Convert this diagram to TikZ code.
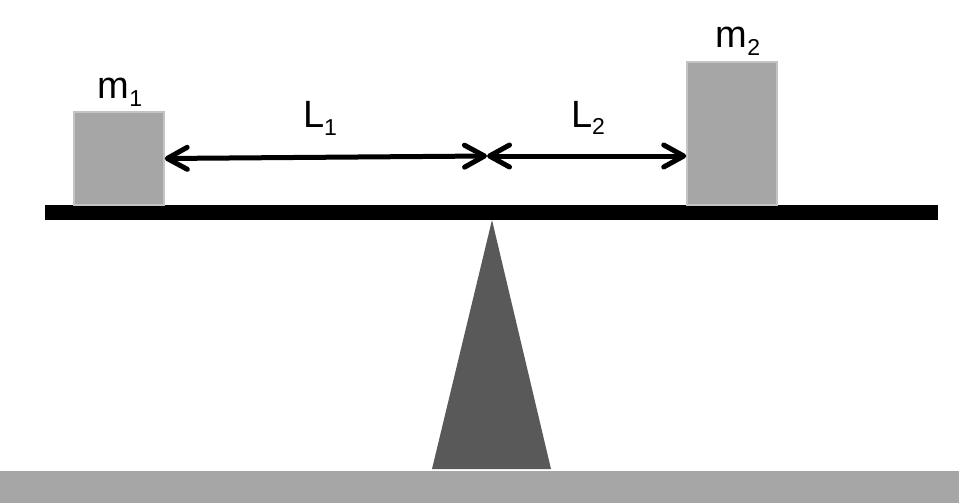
\documentclass[tikz,border=0pt]{standalone}
\usepackage{fontspec}
\setmainfont{Liberation Sans}
\usetikzlibrary{arrows.meta}
\definecolor{blockgray}{HTML}{A6A6A6}
\definecolor{edgegray}{HTML}{C4C4C4}
\definecolor{pivotgray}{HTML}{595959}
\newcommand{\subidx}[1]{\raisebox{-8pt}{\fontsize{23}{23}\selectfont #1}}
\tikzset{
  mass/.style={rectangle, draw=edgegray, fill=blockgray, line width=1.5pt, minimum width=90pt, inner sep=0pt},
  masslabel/.style={anchor=base, inner sep=0pt, font=\fontsize{38}{38}\selectfont},
  dist/.style={draw, line width=5pt, >={Straight Barb[length=20pt,width=22pt,line cap=round,line join=round]}, <->},
  beam/.style={fill=black},
  ground/.style={fill=blockgray},
  fulcrum/.style={fill=pivotgray},
}
\begin{document}
\begin{tikzpicture}[x=1pt,y=-1pt]
\useasboundingbox (0,0) rectangle (959,503);

  % ground and fulcrum
  \fill[ground] (0,471) rectangle (959,503);
  \coordinate (apex) at (492,220);
  \fill[fulcrum] (apex) -- (432,469) -- (551,469) -- cycle;
  \fill[beam] (45,205) rectangle (938,220);

  % the two masses
  \node[mass, minimum height=93pt] (m1) at (119,158.5) {};
  \node[mass, minimum height=143pt] (m2) at (732,133.5) {};
  \node[masslabel] (labm1) at (120,99) {m\subidx{1}};
  \node[masslabel] (labm2) at (738,48) {m\subidx{2}};

  % lever arms
  \coordinate (pivot) at (487,156);
  \path[dist] (m1.east) -- (pivot);
  \path[dist] (pivot) -- (pivot -| m2.west);
  \node[masslabel] (labL1) at (320,128) {L\subidx{1}};
  \node[masslabel] (labL2) at (588,127) {L\subidx{2}};
\end{tikzpicture}
\end{document}
